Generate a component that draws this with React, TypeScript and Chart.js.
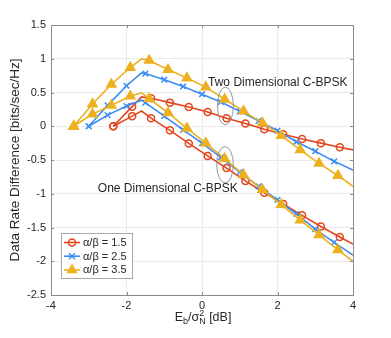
import React, { useEffect, useRef } from "react";
import { Chart, registerables } from "chart.js";

Chart.register(...registerables);

// ---- data ----
const X_R15 = [-2.35, -1.85, -1.6, -1.35, -0.85, -0.35, 0.15, 0.65, 1.15, 1.65, 2.15, 2.65, 3.15, 3.65, 4.0];
const Y_R15_2D = [0, 0.29, 0.435, 0.415, 0.35, 0.285, 0.21, 0.12, 0.04, -0.045, -0.12, -0.19, -0.25, -0.31, -0.35];
const Y_R15_1D = [0, 0.15, 0.225, 0.12, -0.06, -0.255, -0.44, -0.62, -0.81, -0.985, -1.15, -1.32, -1.485, -1.64, -1.745];

const X_R25 = [-3.0, -2.5, -2.0, -1.6, -1.5, -1.0, -0.5, 0.0, 0.5, 1.0, 1.5, 2.0, 2.5, 3.0, 3.5, 4.0];
const Y_R25_2D = [0, 0.31, 0.6, 0.79, 0.78, 0.69, 0.59, 0.475, 0.36, 0.22, 0.08, -0.065, -0.23, -0.37, -0.52, -0.65];
const Y_R25_1D = [0, 0.165, 0.3, 0.385, 0.35, 0.15, -0.055, -0.25, -0.46, -0.68, -0.89, -1.09, -1.3, -1.525, -1.72, -1.91];

const X_R35 = [-3.4, -2.9, -2.4, -1.9, -1.6, -1.4, -0.9, -0.4, 0.1, 0.6, 1.1, 1.6, 2.1, 2.6, 3.1, 3.6, 4.0];
const Y_R35_2D = [0, 0.33, 0.62, 0.87, 1.0, 0.975, 0.84, 0.715, 0.58, 0.4, 0.225, 0.05, -0.14, -0.35, -0.55, -0.73, -0.89];
const Y_R35_1D = [0, 0.18, 0.31, 0.445, 0.495, 0.41, 0.2, -0.03, -0.25, -0.48, -0.72, -0.94, -1.16, -1.39, -1.61, -1.83, -2.0];

// x values where the curve has a vertex but no marker
const NO_MARKER_X = [-1.6, 4.0];

const LEGEND_LABELS = ["α/β = 1.5", "α/β = 2.5", "α/β = 3.5"];
const X_TICKS = [-4, -2, 0, 2, 4];
const Y_TICKS = [-2.5, -2, -1.5, -1, -0.5, 0, 0.5, 1, 1.5];

// annotations (data coordinates)
const ANN_TEXT_2D = { text: "Two Dimensional C-BPSK", x: 0.16, y: 0.64 };
const ANN_TEXT_1D = { text: "One Dimensional C-BPSK", x: -2.76, y: -0.93 };
const ANN_ELLIPSE_2D = { x: 0.62, y: 0.3, rx: 0.21, ry: 0.28 };
const ANN_ELLIPSE_1D = { x: 0.61, y: -0.57, rx: 0.22, ry: 0.27 };

const RED = "#E4461E";
const BLUE = "#3B8DF2";
const YELLOW = "#EDB120";
const TEXT = "#262626";
const FONT = "'Liberation Sans', Arial, Helvetica, sans-serif";

const STYLES = [
  { color: RED, style: "circle", radius: 3.5, fill: "rgba(0,0,0,0)" },
  { color: BLUE, style: "crossRot", radius: 4, fill: BLUE },
  { color: YELLOW, style: "triangle", radius: 5.3, fill: YELLOW },
];

function pts(xs: number[], ys: number[]) {
  return xs.map((x, i) => ({ x, y: ys[i] }));
}

function makeDataset(xs: number[], ys: number[], k: number) {
  const s = STYLES[k];
  return {
    data: pts(xs, ys),
    borderColor: s.color,
    backgroundColor: s.fill,
    borderWidth: 1.6,
    pointStyle: s.style,
    pointRadius: (ctx: any) => (ctx.raw && NO_MARKER_X.includes(ctx.raw.x) ? 0 : s.radius),
    pointBorderWidth: 1.5,
    pointBorderColor: s.color,
    pointBackgroundColor: s.fill,
    pointHoverRadius: 0,
    tension: 0,
    fill: false,
    order: 2 - k,
  };
}

function drawMarker(ctx: CanvasRenderingContext2D, k: number, x: number, y: number) {
  const s = STYLES[k];
  ctx.save();
  ctx.strokeStyle = s.color;
  ctx.fillStyle = s.color;
  ctx.lineWidth = 1.5;
  ctx.beginPath();
  if (s.style === "circle") {
    ctx.arc(x, y, s.radius, 0, Math.PI * 2);
    ctx.stroke();
  } else if (s.style === "crossRot") {
    const r = s.radius * 0.75;
    ctx.moveTo(x - r, y - r);
    ctx.lineTo(x + r, y + r);
    ctx.moveTo(x + r, y - r);
    ctx.lineTo(x - r, y + r);
    ctx.stroke();
  } else {
    const r = 5;
    ctx.moveTo(x, y - r);
    ctx.lineTo(x + r * 0.87, y + r * 0.5);
    ctx.lineTo(x - r * 0.87, y + r * 0.5);
    ctx.closePath();
    ctx.fill();
    ctx.stroke();
  }
  ctx.restore();
}

const decorPlugin = {
  id: "decor",
  afterDraw(chart: any) {
    const ctx: CanvasRenderingContext2D = chart.ctx;
    const { left, right, top, bottom } = chart.chartArea;
    const xs = chart.scales.x;
    const ys = chart.scales.y;
    ctx.save();
    // frame
    ctx.strokeStyle = "#8a8a8a";
    ctx.lineWidth = 1;
    ctx.strokeRect(Math.round(left) + 0.5, Math.round(top) + 0.5, Math.round(right - left), Math.round(bottom - top));
    // inward ticks
    ctx.beginPath();
    X_TICKS.forEach((v) => {
      const px = Math.round(xs.getPixelForValue(v)) + 0.5;
      ctx.moveTo(px, bottom);
      ctx.lineTo(px, bottom - 3);
      ctx.moveTo(px, top);
      ctx.lineTo(px, top + 3);
    });
    Y_TICKS.forEach((v) => {
      const py = Math.round(ys.getPixelForValue(v)) + 0.5;
      ctx.moveTo(left, py);
      ctx.lineTo(left + 3, py);
      ctx.moveTo(right, py);
      ctx.lineTo(right - 3, py);
    });
    ctx.stroke();

    // ellipses
    ctx.strokeStyle = "#8c8c8c";
    ctx.lineWidth = 0.9;
    [ANN_ELLIPSE_2D, ANN_ELLIPSE_1D].forEach((e) => {
      const cx = xs.getPixelForValue(e.x);
      const cy = ys.getPixelForValue(e.y);
      const rx = Math.abs(xs.getPixelForValue(e.x + e.rx) - cx);
      const ry = Math.abs(ys.getPixelForValue(e.y + e.ry) - cy);
      ctx.beginPath();
      ctx.ellipse(cx, cy, rx, ry, 0, 0, Math.PI * 2);
      ctx.stroke();
    });

    // annotation text
    ctx.fillStyle = TEXT;
    ctx.font = `12px ${FONT}`;
    ctx.textBaseline = "middle";
    ctx.textAlign = "left";
    [ANN_TEXT_2D, ANN_TEXT_1D].forEach((t) => {
      ctx.fillText(t.text, xs.getPixelForValue(t.x), ys.getPixelForValue(t.y));
    });

    // legend
    const lx = left + 10;
    const ly = bottom - 62;
    const lw = 71;
    const lh = 45;
    ctx.fillStyle = "#ffffff";
    ctx.fillRect(lx, ly, lw, lh);
    ctx.strokeStyle = "#a8a8a8";
    ctx.lineWidth = 1;
    ctx.strokeRect(lx + 0.5, ly + 0.5, lw, lh);
    ctx.font = `11px ${FONT}`;
    LEGEND_LABELS.forEach((lab, i) => {
      const cy = ly + 9.5 + i * 13.7;
      ctx.strokeStyle = STYLES[i].color;
      ctx.lineWidth = 1.6;
      ctx.beginPath();
      ctx.moveTo(lx + 3, cy);
      ctx.lineTo(lx + 19, cy);
      ctx.stroke();
      drawMarker(ctx, i, lx + 11, cy);
      ctx.fillStyle = TEXT;
      ctx.textBaseline = "middle";
      ctx.fillText(lab, lx + 22, cy + 0.5);
    });

    // y-axis title
    ctx.save();
    ctx.translate(15, (top + bottom) / 2);
    ctx.rotate(-Math.PI / 2);
    ctx.font = `13.5px ${FONT}`;
    ctx.textAlign = "center";
    ctx.textBaseline = "middle";
    ctx.fillStyle = TEXT;
    ctx.fillText("Data Rate Difference [bits/sec/Hz]", 0, 0);
    ctx.restore();

    // x-axis title: E_b/σ_N^2 [dB]
    const main = `12.5px ${FONT}`;
    const small = `9px ${FONT}`;
    const parts: { t: string; f: string; dy: number }[] = [
      { t: "E", f: main, dy: 0 },
      { t: "b", f: small, dy: 3 },
      { t: "/σ", f: main, dy: 0 },
      { t: "N", f: small, dy: 3 },
      { t: " [dB]", f: main, dy: 0 },
    ];
    const sup = { t: "2", f: small, dy: -5 };
    let total = 0;
    const widths = parts.map((p) => {
      ctx.font = p.f;
      const w = ctx.measureText(p.t).width;
      total += w;
      return w;
    });
    const cxp = xs.getPixelForValue(0);
    let x = cxp - total / 2 + 1;
    const base = 320.5;
    ctx.textAlign = "left";
    ctx.textBaseline = "alphabetic";
    ctx.fillStyle = TEXT;
    parts.forEach((p, i) => {
      ctx.font = p.f;
      ctx.fillText(p.t, x, base + p.dy);
      if (i === 3) {
        ctx.font = sup.f;
        ctx.fillText(sup.t, x, base + sup.dy);
      }
      x += widths[i];
    });
    ctx.restore();
  },
};

export default function App() {
  const ref = useRef<HTMLCanvasElement | null>(null);
  useEffect(() => {
    if (!ref.current) return;
    const chart = new Chart(ref.current, {
      type: "line",
      data: {
        datasets: [
          makeDataset(X_R15, Y_R15_2D, 0),
          makeDataset(X_R15, Y_R15_1D, 0),
          makeDataset(X_R25, Y_R25_2D, 1),
          makeDataset(X_R25, Y_R25_1D, 1),
          makeDataset(X_R35, Y_R35_2D, 2),
          makeDataset(X_R35, Y_R35_1D, 2),
        ] as any,
      },
      options: {
        responsive: false,
        animation: false,
        devicePixelRatio: 1,
        layout: { padding: { top: 25, right: 38, left: 0, bottom: 0 } },
        plugins: { legend: { display: false }, tooltip: { enabled: false } },
        events: [],
        scales: {
          x: {
            type: "linear",
            min: -4,
            max: 4,
            afterBuildTicks: (s: any) => {
              s.ticks = X_TICKS.map((v) => ({ value: v }));
            },
            ticks: {
              callback: (v: any) => String(v),
              font: { size: 11, family: FONT },
              color: TEXT,
              padding: 4,
              maxRotation: 0,
            },
            grid: { color: "#ebebeb", drawTicks: false },
            border: { color: "#8a8a8a" },
            afterFit: (s: any) => {
              s.height = 43;
            },
          },
          y: {
            type: "linear",
            min: -2.5,
            max: 1.5,
            afterBuildTicks: (s: any) => {
              s.ticks = Y_TICKS.map((v) => ({ value: v }));
            },
            ticks: {
              callback: (v: any) => String(v),
              font: { size: 11, family: FONT },
              color: TEXT,
              padding: 5,
            },
            grid: { color: "#ebebeb", drawTicks: false },
            border: { color: "#8a8a8a" },
            afterFit: (s: any) => {
              s.width = 51;
            },
          },
        },
      } as any,
      plugins: [decorPlugin],
    });
    return () => chart.destroy();
  }, []);
  return (
    <div style={{ position: "absolute", left: 0, top: 0, width: 391, height: 338, background: "#fff" }}>
      <canvas ref={ref} width={391} height={338} style={{ display: "block" }} />
    </div>
  );
}
